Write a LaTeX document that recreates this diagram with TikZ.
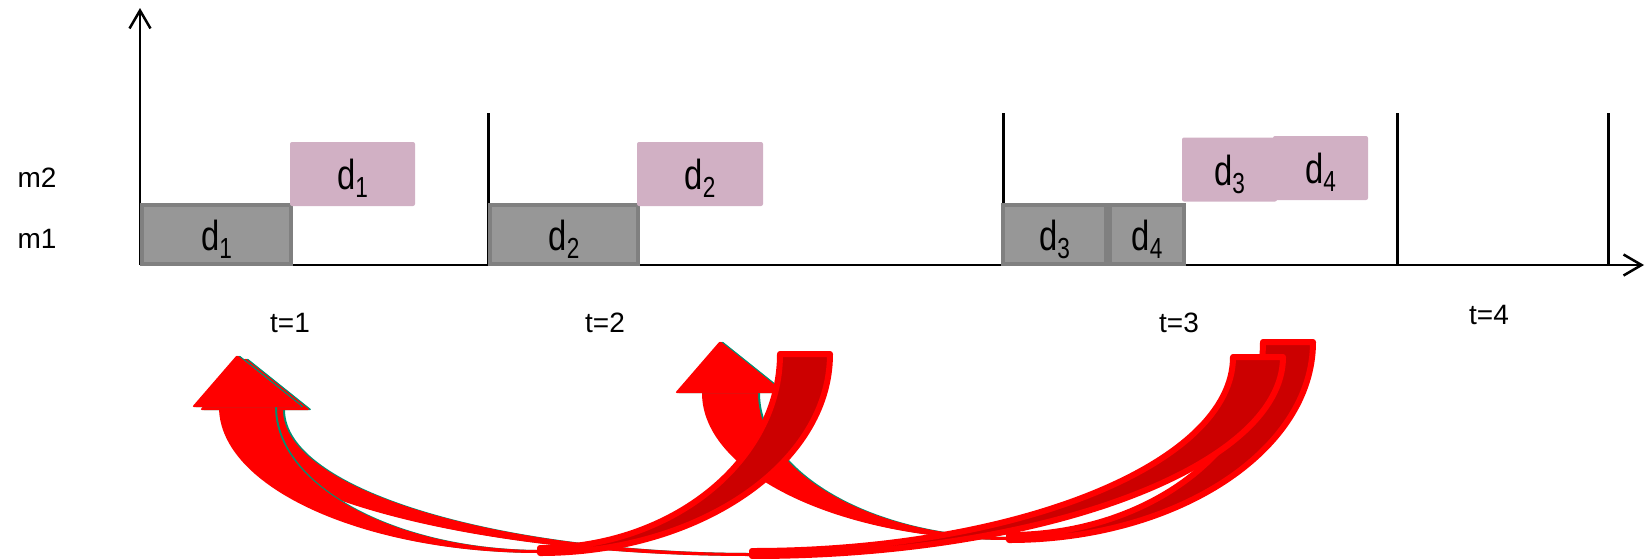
\documentclass[tikz,border=0pt]{standalone}
\usepackage{fontspec}
\setmainfont{Liberation Sans}
\newfontfamily\narrowsf[FakeStretch=0.78]{Liberation Sans}
\usetikzlibrary{arrows.meta}

\definecolor{jobgray}{RGB}{151,151,151}
\definecolor{jobedge}{RGB}{128,128,128}
\definecolor{jobpink}{RGB}{209,176,196}
\definecolor{bandred}{RGB}{255,0,0}
\definecolor{banddark}{RGB}{204,0,0}
\definecolor{bandteal}{RGB}{0,145,115}

\newcommand{\dlab}[1]{{\narrowsf\fontsize{42}{42}\selectfont d\raisebox{-8pt}{\fontsize{29}{29}\selectfont #1}}}

\tikzset{
  m1box/.style={draw=jobedge,line width=4pt,fill=jobgray,minimum height=59pt,
    inner sep=0pt,text height=31pt,text depth=0pt},
  m2box/.style={fill=jobpink,rounded corners=2pt,minimum height=64pt,
    inner sep=0pt,text height=31pt,text depth=0pt},
  lbl/.style={font=\fontsize{28}{28}\selectfont,inner sep=0pt},
  bandfront/.style={fill=bandred,preaction={fill=bandteal,transform canvas={xshift=2pt}}},
  bandback/.style={fill=banddark,draw=bandred,line width=6pt,line join=round,
    preaction={fill=bandteal,draw=bandteal,transform canvas={xshift=2pt}}}
}

\begin{document}
\begin{tikzpicture}[x=1pt,y=-1pt,>={Straight Barb[length=18pt,width=21pt]}]
    \useasboundingbox (0,0) rectangle (1646,558);
    % axes and slots
    \draw[line width=2.5pt,->] (140,265)--(140,8);
    \draw[line width=2.5pt,->] (140,265)--(1644,265);
    \foreach \x in {488,1003,1397,1608}
      {\draw[line width=3pt] (\x,113)--(\x,265);}
    \node[lbl] (m2) at (37,177.5) {m2};
    \node[lbl] (m1) at (37,238.5) {m1};
    \foreach \x/\t in {290/1,605/2,1179/3,1489/4}
      {\node[lbl] (t\t) at (\x,\ifnum\t=4 315\else 323\fi) {t=\t};}
    % jobs on m1
    \node[m1box,minimum width=149pt] (a1) at (216.5,234.5) {\dlab{1}};
    \node[m1box,minimum width=148pt] (a2) at (564,234.5) {\dlab{2}};
    \node[m1box,minimum width=103pt] (a3) at (1054.5,234.5) {\dlab{3}};
    \node[m1box,minimum width=74pt] (a4) at (1147,234.5) {\dlab{4}};
    % jobs on m2
    \node[m2box,minimum width=125pt] (b1) at (352.5,174) {\dlab{1}};
    \node[m2box,minimum width=126pt] (b2) at (700,174) {\dlab{2}};
    \node[m2box,minimum width=95pt] (b3) at (1229.5,169.5) {\dlab{3}};
    \node[m2box,minimum width=95pt] (b4) at (1320.5,168) {\dlab{4}};
    % bent arrows back to the earlier slot
    \foreach \hc/\yb/\xm/\yl/\tc/\yt in {730/393/1009/540/1288/342,
        255/410/752/556/1258/357,247/407/540/553/805/354}
      {\fill[bandfront] ({\hc-28},\yb) .. controls ({\hc-28},{\yb+.55*(\yl-\yb)})
          and ({\xm-.55*(\xm-\hc+28)},\yl) .. (\xm,\yl) -- (\xm,{\yl-3})
          .. controls ({\xm-.55*(\xm-\hc-28)},{\yl-3}) and ({\hc+28},{\yb+.55*(\yl-3-\yb)})
          .. ({\hc+28},\yb) -- cycle;
       \fill[bandfront,rounded corners=2pt] ({\hc-55},\yb) -- ({\hc-10},{\yb-52})
          -- ({\hc+55},\yb) -- cycle;
       \filldraw[bandback] ({\tc-25},\yt) -- ({\tc+25},\yt)
          .. controls ({\tc+25},{\yt+.55*(\yl-\yt)}) and ({\xm+.55*(\tc+25-\xm)},\yl)
          .. (\xm,\yl) -- (\xm,{\yl-5})
          .. controls ({\xm+.55*(\tc-25-\xm)},{\yl-5}) and ({\tc-25},{\yt+.55*(\yl-5-\yt)})
          .. ({\tc-25},\yt) -- cycle;}
\end{tikzpicture}
\end{document}
